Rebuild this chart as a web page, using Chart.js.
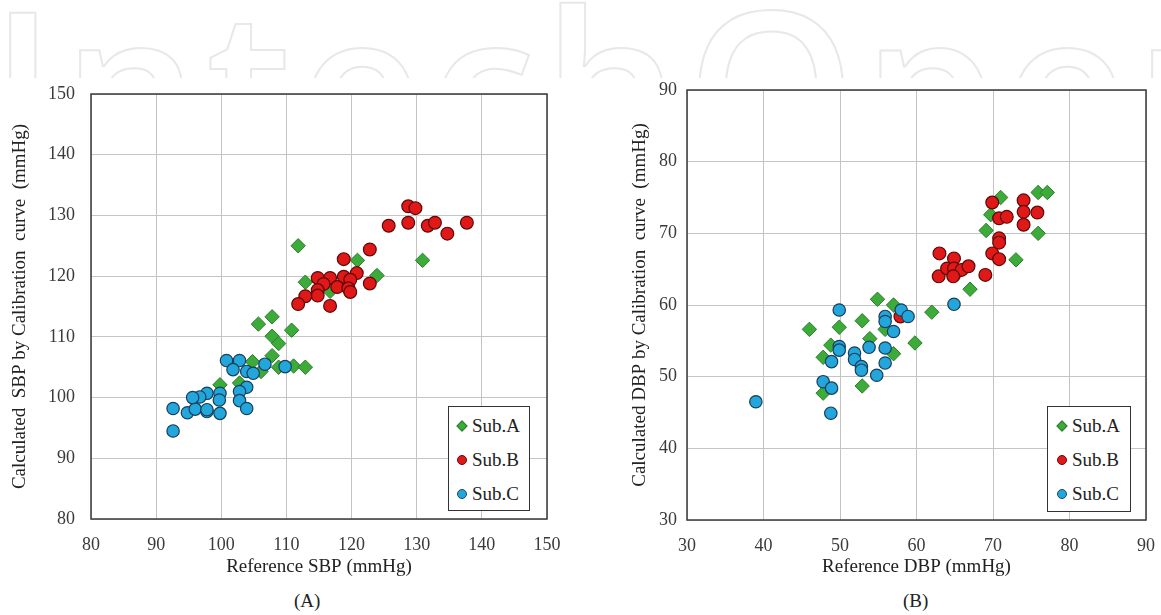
<!DOCTYPE html>
<html>
<head>
<meta charset="utf-8">
<script src="https://cdn.jsdelivr.net/npm/chart.js@4.4.1/dist/chart.umd.min.js"></script>
<style>
  body { margin: 0; background: #fff; width: 1161px; height: 615px; position: relative; overflow: hidden; }
  #mark { position: absolute; left: 0; top: 0; width: 1161px; height: 78px; overflow: hidden; }
  #mark span { position: absolute; left: -10px; top: -24px; font: 600 215px "Open Sans"; line-height: 1; letter-spacing: 7px; color: transparent; -webkit-text-stroke: 2px #e8e8e8; white-space: nowrap; }
  canvas { position: absolute; top: 0; }
  #sbp { left: 0; }
  #dbp { left: 615px; }
  .legend { position: absolute; border: 1.5px solid #333; background: #fff; box-sizing: border-box; font: 19px "Liberation Serif"; color: #222; }
  .legend div { position: absolute; height: 20px; line-height: 20px; }
  .mk { position: absolute; top: 5px; width: 10px; height: 10px; box-sizing: border-box; }
  .mk.a { width: 8px; height: 8px; top: 6px; background: #3cab3a; border: 1px solid #2a7d2a; transform: rotate(45deg); }
  .mk.b { border-radius: 50%; background: #e01818; border: 1px solid #6a0a0a; }
  .mk.c { border-radius: 50%; background: #22a6dc; border: 1px solid #1b4a68; }
  .cap { position: absolute; top: 590px; font: 19px "Liberation Serif"; color: #222; }
</style>
</head>
<body>
<div id="mark"><span>IntechOpen</span></div>
<canvas id="sbp" width="580" height="590" style="width:580px;height:590px"></canvas>
<canvas id="dbp" width="560" height="590" style="width:560px;height:590px"></canvas>

<div class="legend" style="left:448px;top:406px;width:82px;height:105px">
  <div style="left:0;top:9px"><span class="mk a" style="left:9px"></span><span style="position:absolute;left:23px">Sub.A</span></div>
  <div style="left:0;top:43px"><span class="mk b" style="left:8px"></span><span style="position:absolute;left:23px">Sub.B</span></div>
  <div style="left:0;top:77px"><span class="mk c" style="left:8px"></span><span style="position:absolute;left:23px">Sub.C</span></div>
</div>
<div class="legend" style="left:1047px;top:406px;width:84px;height:106px">
  <div style="left:0;top:9px"><span class="mk a" style="left:10px"></span><span style="position:absolute;left:24px">Sub.A</span></div>
  <div style="left:0;top:43px"><span class="mk b" style="left:9px"></span><span style="position:absolute;left:24px">Sub.B</span></div>
  <div style="left:0;top:77px"><span class="mk c" style="left:9px"></span><span style="position:absolute;left:24px">Sub.C</span></div>
</div>
<div class="cap" style="left:294px">(A)</div>
<div class="cap" style="left:903px">(B)</div>

<script>
const seriesNames = ["Sub.A", "Sub.B", "Sub.C"];

// (A) SBP: reference vs calculated
const sbpTicks = [80, 90, 100, 110, 120, 130, 140, 150];
const sbpRefA = [111.8, 120.9, 123.9, 112.9, 116.7, 110.8, 130.9, 107.8, 105.7, 107.8, 108.8, 107.8, 104.8, 108.8, 111.1, 112.9, 106.1, 99.8, 102.8];
const sbpCalA = [125, 122.6, 120.1, 119, 117.5, 111.1, 122.6, 113.3, 112.1, 110.1, 108.9, 106.9, 105.9, 105, 105.2, 105, 104.3, 102.1, 102.4];
const sbpRefB = [125.7, 128.7, 129.8, 128.7, 131.7, 132.8, 134.7, 137.7, 122.8, 118.8, 120.8, 122.8, 114.8, 116.7, 118.8, 119.8, 115.7, 117.8, 119.5, 119.8, 114.8, 114.8, 112.9, 111.8, 116.7];
const sbpCalB = [128.3, 131.5, 131.2, 128.8, 128.3, 128.8, 127, 128.8, 124.4, 122.8, 120.5, 118.8, 119.7, 119.7, 119.9, 119.4, 118.7, 118.2, 118, 117.4, 117.7, 116.8, 116.7, 115.4, 115.1];
const sbpRefC = [100.8, 102.8, 101.8, 103.9, 104.9, 106.7, 109.8, 103.9, 102.8, 99.8, 97.8, 96.7, 99.7, 102.8, 97.8, 99.8, 103.9, 92.6, 92.6, 94.8, 96, 95.6, 97.8];
const sbpCalC = [106.1, 106.1, 104.6, 104.3, 104, 105.5, 105.1, 101.7, 101, 100.7, 100.7, 100.1, 99.6, 99.5, 97.7, 97.4, 98.2, 94.5, 98.2, 97.5, 98.1, 100, 98];

// (B) DBP: reference vs calculated
const dbpTicks = [30, 40, 50, 60, 70, 80, 90];
const dbpRefA = [46, 47.8, 47.8, 48.8, 49.9, 52.9, 52.9, 53.9, 54.9, 55.9, 57, 57, 59.8, 62, 67, 69.1, 69.7, 71, 73, 75.9, 75.9, 77.1];
const dbpCalA = [56.6, 52.7, 47.7, 54.4, 56.9, 57.8, 48.7, 55.3, 60.8, 56.6, 60, 53.2, 54.7, 59, 62.2, 70.4, 72.6, 75, 66.3, 70, 75.7, 75.7];
const dbpRefB = [57.9, 63, 62.9, 64, 64.9, 64.9, 64.9, 65.9, 66.8, 64.8, 69, 69.9, 70.8, 71.8, 69.9, 70.8, 70.8, 70.8, 74, 74, 74, 75.8];
const dbpCalB = [58.4, 67.2, 64, 65.1, 66.5, 64.2, 65.1, 64.9, 65.4, 64, 64.2, 74.3, 72.1, 72.3, 67.2, 66.4, 69.3, 68.7, 74.6, 73, 71.2, 72.9];
const dbpRefC = [39, 48.8, 47.8, 48.9, 48.9, 49.9, 49.9, 49.9, 51.9, 51.9, 52.8, 52.8, 53.8, 54.8, 55.9, 55.9, 55.9, 55.9, 57, 58, 58.9, 64.9];
const dbpCalC = [46.5, 44.9, 49.3, 48.4, 52.1, 59.3, 54.2, 53.7, 53.3, 52.4, 51.4, 50.9, 54.1, 50.2, 58.4, 57.7, 54, 51.9, 56.3, 59.3, 58.4, 60.1];

const serif = "Liberation Serif";

function pairs(xs, ys) {
  return xs.map((x, i) => ({ x: x, y: ys[i] }));
}

function makeSets(ax, ay, bx, by, cx, cy) {
  return [
    { label: seriesNames[0], data: pairs(ax, ay), pointStyle: 'rectRot', pointRadius: 7.2,
      backgroundColor: '#3cab3a', borderColor: '#2a7d2a', borderWidth: 1, order: 3 },
    { label: seriesNames[1], data: pairs(bx, by), pointStyle: 'circle', pointRadius: 6.4,
      backgroundColor: '#e01818', borderColor: '#5e0808', borderWidth: 1.2, order: 2 },
    { label: seriesNames[2], data: pairs(cx, cy), pointStyle: 'circle', pointRadius: 6.2,
      backgroundColor: '#22a6dc', borderColor: '#173f5a', borderWidth: 1.2, order: 1 }
  ];
}

// box round the plot area, like the Excel chart
const frame = {
  id: 'frame',
  beforeDatasetsDraw(chart) {
    const a = chart.chartArea, ctx = chart.ctx;
    ctx.save();
    ctx.strokeStyle = '#3a3a3a';
    ctx.lineWidth = 1.5;
    ctx.strokeRect(a.left, a.top, a.right - a.left, a.bottom - a.top);
    ctx.restore();
  }
};

// area = wanted plot box inside the canvas: [left, top, right, bottom]
function makeChart(id, sets, ticks, xTitle, yTitle, area, yTitlePad, yTickPad) {
  const canvas = document.getElementById(id);
  const axisBase = {
    type: 'linear',
    min: ticks[0],
    max: ticks[ticks.length - 1],
    grid: { color: '#c4c4c4', lineWidth: 1, drawTicks: false },
    border: { display: false }
  };
  const chart = new Chart(canvas, {
    type: 'scatter',
    data: { datasets: sets },
    options: {
      responsive: false,
      animation: false,
      devicePixelRatio: 1,
      layout: { padding: { top: area[1], right: canvas.width - area[2], left: 0, bottom: 0 } },
      plugins: { legend: { display: false }, tooltip: { enabled: false } },
      scales: {
        x: Object.assign({}, axisBase, {
          ticks: { stepSize: 10, padding: 15, color: '#3a3a3a', font: { family: serif, size: 18 } },
          title: { display: true, text: xTitle, color: '#222', font: { family: serif, size: 19 }, padding: { bottom: 12, top: 0 } },
          afterFit: s => { s.height = canvas.height - area[3]; }
        }),
        y: Object.assign({}, axisBase, {
          ticks: { stepSize: 10, padding: yTickPad, color: '#3a3a3a', font: { family: serif, size: 18 } },
          title: { display: true, text: yTitle, color: '#222', font: { family: serif, size: 19 }, padding: { top: yTitlePad, bottom: 0 } },
          afterFit: s => { s.width = area[0]; }
        })
      }
    },
    plugins: [frame]
  });
  // nudge the padding if the layout did not land on the wanted box
  const pad = chart.config.options.layout.padding;
  const dr = chart.chartArea.right - area[2];
  const dt = chart.chartArea.top - area[1];
  if (Math.abs(dr) > 0.5 || Math.abs(dt) > 0.5) {
    pad.right += dr;
    pad.top -= dt;
    chart.update();
  }
  return chart;
}

makeChart('sbp', makeSets(sbpRefA, sbpCalA, sbpRefB, sbpCalB, sbpRefC, sbpCalC), sbpTicks,
  'Reference SBP (mmHg)', 'Calculated  SBP by Calibration  curve  (mmHg)', [91, 94, 547, 519], 9, 16);
makeChart('dbp', makeSets(dbpRefA, dbpCalA, dbpRefB, dbpCalB, dbpRefC, dbpCalC), dbpTicks,
  'Reference DBP (mmHg)', 'Calculated DBP by Calibration  curve  (mmHg)', [72, 90, 531, 520], 14, 10);
</script>
</body>
</html>
